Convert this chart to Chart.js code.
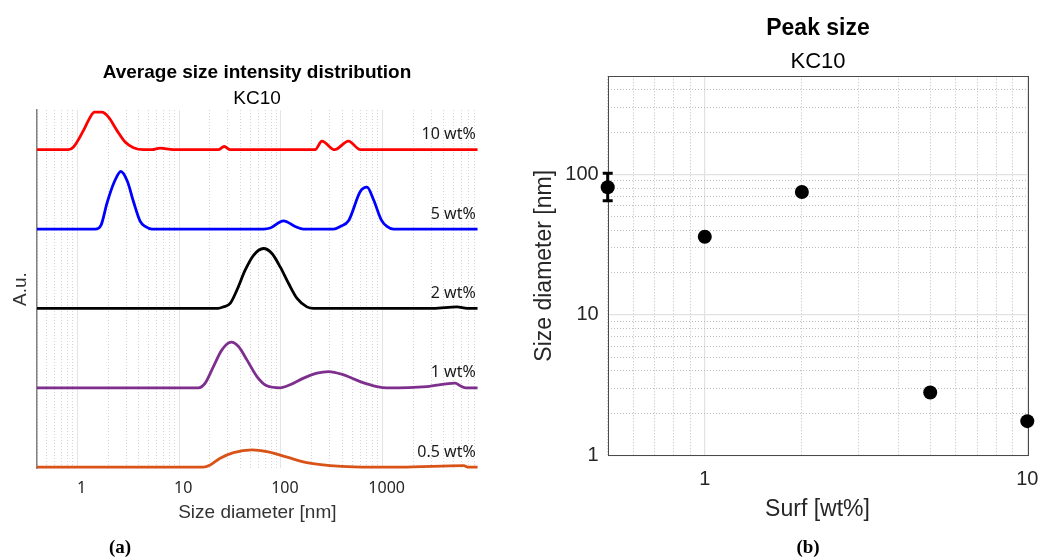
<!DOCTYPE html>
<html><head><meta charset="utf-8">
<script src="https://cdn.jsdelivr.net/npm/chart.js@4.4.1/dist/chart.umd.min.js"></script>
<style>
html,body{margin:0;padding:0;background:#fff;}
body{width:1059px;height:559px;position:relative;overflow:hidden;font-family:"Liberation Sans",Arial,sans-serif;}
.box{position:absolute;}
#wa{left:0;top:0;width:520px;height:559px;}
#wb{left:520px;top:0;width:539px;height:559px;}
.t{position:absolute;white-space:nowrap;transform:translate(-50%,-50%);color:#000;line-height:1;}
.cap{font-family:"Liberation Serif","DejaVu Serif",serif;font-weight:bold;font-size:19px;}
</style></head><body>
<div class="box" id="wa"><canvas id="ca"></canvas></div>
<div class="box" id="wb"><canvas id="cb"></canvas></div>
<div class="t" style="left:257px;top:71px;font-weight:bold;font-size:19px;">Average size intensity distribution</div>
<div class="t" style="left:257px;top:97px;font-size:19px;">KC10</div>
<div class="t" style="left:818px;top:27px;font-weight:bold;font-size:23px;">Peak size</div>
<div class="t" style="left:818px;top:61px;font-size:22px;">KC10</div>
<div class="t cap" style="left:120px;top:546px;">(a)</div>
<div class="t cap" style="left:808px;top:546px;">(b)</div>
<script>
// ---------- Panel (a): size intensity distributions (A.u., stacked) ----------
const label10 = '10 wt%';
const size10 = [0.4, 0.815, 0.913, 1.146, 1.333, 1.47, 1.74, 2.02, 2.44, 2.94, 3.55, 4.46, 5.4, 6.5, 8.7, 24.2, 27.7, 31.7, 217, 253, 337, 462, 603, 8570];
const int10  = [0, 0, 0.033, 0.243, 0.41, 0.473, 0.473, 0.41, 0.243, 0.096, 0.025, 0, 0, 0.02, 0, 0, 0.04, 0, 0, 0.108, 0, 0.108, 0, 0];

const label5 = '5 wt%';
const size5 = [0.4, 1.49, 1.71, 1.95, 2.31, 2.67, 3.10, 3.55, 4.14, 4.63, 5.39, 67.5, 78.5, 106, 138, 167, 329, 383, 462, 603, 701, 814, 969, 1102, 1280, 8570];
const int5  = [0, 0, 0.054, 0.327, 0.599, 0.725, 0.599, 0.347, 0.096, 0.033, 0, 0, 0.013, 0.104, 0.033, 0, 0, 0.033, 0.104, 0.473, 0.528, 0.369, 0.117, 0.033, 0, 0];

const label2 = '2 wt%';
const size2 = [0.4, 24, 27.3, 31.7, 36.9, 44.5, 53.8, 67.5, 81.6, 98.4, 119, 144, 180, 209, 3145, 5380, 6790, 8570];
const int2  = [0, 0, 0.02, 0.063, 0.23, 0.482, 0.67, 0.755, 0.692, 0.523, 0.314, 0.126, 0.02, 0, 0, 0.02, 0, 0];

const label1 = '1 wt%';
const size1 = [0.4, 15.5, 18.0, 21.7, 26.3, 32.5, 38.3, 46.3, 58.1, 72.8, 98.4, 123, 167, 226, 294, 413, 603, 879, 1102, 2730, 5170, 5790, 6490, 8570];
const int1  = [0, 0, 0.059, 0.268, 0.478, 0.575, 0.52, 0.352, 0.142, 0.025, 0, 0.038, 0.122, 0.185, 0.205, 0.164, 0.079, 0.016, 0, 0.016, 0.059, 0.025, 0, 0];

const label05 = '0.5 wt%';
const size05 = [0.4, 17.3, 20.2, 25.3, 34.2, 51.9, 72.8, 115, 180, 305, 518, 1490, 6240, 7000, 8570];
const int05  = [0, 0, 0.029, 0.113, 0.184, 0.218, 0.196, 0.126, 0.058, 0.02, 0.004, 0, 0.02, 0, 0];

const stackOffsets = [4, 3, 2, 1, 0];
const xTicksA = [1, 10, 100, 1000];
const xTitleA = 'Size diameter [nm]';
const yTitleA = 'A.u.';

// ---------- Panel (b): peak size ----------
const surf = [0.5, 1, 2, 5, 10];
const peakSize = [81, 36, 75, 2.8, 1.75];
const peakLow  = [65, null, null, null, null];
const peakHigh = [102, null, null, null, null];
const xTicksB = [1, 10];
const yTicksB = [1, 10, 100];
const xTitleB = 'Surf [wt%]';
const yTitleB = 'Size diameter [nm]';

// ---------- helpers ----------
function isDecade(v){ const l = Math.log10(v); return Math.abs(l - Math.round(l)) < 1e-6; }
function isIntSig(v){ const s = v / Math.pow(10, Math.floor(Math.log10(v) + 1e-9)); return Math.abs(s - Math.round(s)) < 1e-6; }
function keepIntSig(scale){ scale.ticks = scale.ticks.filter(t => isIntSig(t.value)); }
function keepDecades(scale){ scale.ticks = scale.ticks.filter(t => isDecade(t.value)); }

Chart.defaults.font.family = '"Liberation Sans", Arial, sans-serif';
Chart.defaults.animation = false;

const seriesA = [
  {label: label10, sizes: size10, vals: int10, color: '#ff0000'},
  {label: label5,  sizes: size5,  vals: int5,  color: '#0000ff'},
  {label: label2,  sizes: size2,  vals: int2,  color: '#000000'},
  {label: label1,  sizes: size1,  vals: int1,  color: '#7e2f8e'},
  {label: label05, sizes: size05, vals: int05, color: '#d95319'}
];

const curveLabels = {
  id: 'curveLabels',
  afterDatasetsDraw(chart){
    const {ctx, chartArea, scales} = chart;
    ctx.save();
    ctx.font = '16px "Noto Sans", "Open Sans", sans-serif';
    ctx.fillStyle = '#1a1a1a';
    ctx.textAlign = 'right';
    ctx.textBaseline = 'middle';
    chart.data.datasets.forEach((ds, i) => {
      const y = scales.y.getPixelForValue(stackOffsets[i]) - 15;
      ctx.fillText(ds.label, chartArea.right - 2, y);
    });
    ctx.restore();
  }
};

new Chart(document.getElementById('ca'), {
  type: 'line',
  data: {
    datasets: seriesA.map((s, i) => ({
      label: s.label,
      data: s.sizes.map((x, j) => ({x: x, y: s.vals[j] + stackOffsets[i]})),
      borderColor: s.color,
      backgroundColor: s.color,
      borderWidth: 2.8,
      pointRadius: 0,
      cubicInterpolationMode: 'monotone',
      clip: false,
      fill: false
    }))
  },
  options: {
    responsive: true,
    maintainAspectRatio: false,
    devicePixelRatio: 1,
    layout: {padding: {top: 110, right: 42.3, bottom: 29, left: 0}},
    plugins: {legend: {display: false}, tooltip: {enabled: false}, title: {display: false}},
    scales: {
      x: {
        type: 'logarithmic', position: 'bottom', min: 0.4, max: 8600,
        afterBuildTicks: keepIntSig,
        afterFit: s => { s.height = 62; },
        ticks: {autoSkip: false, maxRotation: 0, padding: 10.4, labelOffset: 4, color: '#262626',
                font: {family: '"Noto Sans", "Open Sans", sans-serif', size: 16},
                callback: v => xTicksA.some(t => Math.abs(t - v) < 1e-6) ? String(v) : ''},
        grid: {color: '#d6d6d6', lineWidth: 1, drawTicks: false},
        border: {display: false, dash: [1, 2]},
        title: {display: true, text: xTitleA, color: '#333333', font: {size: 19}, padding: {top: 0, bottom: 5.6}}
      },
      xMajor: {
        type: 'logarithmic', position: 'bottom', min: 0.4, max: 8600,
        afterBuildTicks: keepDecades,
        afterFit: s => { s.height = 0; },
        ticks: {display: false},
        grid: {color: '#e4e4e4', lineWidth: 1, drawTicks: false},
        border: {display: false}
      },
      y: {
        type: 'linear', min: -0.01, max: 4.5,
        afterFit: s => { s.width = 37; },
        ticks: {display: false},
        grid: {display: false, drawTicks: false},
        border: {display: true, color: '#808080', width: 1.5},
        title: {display: true, text: yTitleA, color: '#333333', font: {size: 19}, padding: {top: 9.6, bottom: 0}}
      }
    }
  },
  plugins: [curveLabels]
});

// ---------- Panel (b) ----------
const boxPlugin = {
  id: 'boxPlugin',
  beforeDatasetsDraw(chart){
    const {ctx, chartArea: a} = chart;
    ctx.save();
    ctx.strokeStyle = '#4a4a4a';
    ctx.lineWidth = 1;
    ctx.strokeRect(Math.round(a.left) + 0.5, Math.round(a.top) + 0.5, Math.round(a.right - a.left), Math.round(a.bottom - a.top));
    ctx.restore();
  }
};
const errorBars = {
  id: 'errorBars',
  afterDatasetsDraw(chart){
    const {ctx, scales} = chart;
    ctx.save();
    ctx.strokeStyle = '#000';
    ctx.lineWidth = 3;
    surf.forEach((x, i) => {
      if (peakLow[i] == null) return;
      const px = scales.x.getPixelForValue(x);
      const y1 = scales.y.getPixelForValue(peakLow[i]);
      const y2 = scales.y.getPixelForValue(peakHigh[i]);
      ctx.beginPath();
      ctx.moveTo(px, y1); ctx.lineTo(px, y2);
      ctx.moveTo(px - 5, y1); ctx.lineTo(px + 5, y1);
      ctx.moveTo(px - 5, y2); ctx.lineTo(px + 5, y2);
      ctx.stroke();
    });
    ctx.restore();
  }
};

new Chart(document.getElementById('cb'), {
  type: 'scatter',
  data: {
    datasets: [{
      label: 'Peak size',
      data: surf.map((x, i) => ({x: x, y: peakSize[i]})),
      backgroundColor: '#000',
      borderColor: '#000',
      pointRadius: 7,
      borderWidth: 0,
      clip: false
    }]
  },
  options: {
    responsive: true,
    maintainAspectRatio: false,
    devicePixelRatio: 1,
    layout: {padding: {top: 76.3, right: 31.7, bottom: 29, left: 0}},
    plugins: {legend: {display: false}, tooltip: {enabled: false}},
    scales: {
      x: {
        type: 'logarithmic', position: 'bottom', min: 0.5, max: 10,
        afterBuildTicks: keepIntSig,
        afterFit: s => { s.height = 74.7; },
        ticks: {autoSkip: false, maxRotation: 0, padding: 12, color: '#262626', font: {size: 20},
                callback: v => xTicksB.some(t => Math.abs(t - v) < 1e-6) ? String(v) : ''},
        grid: {color: '#bdbdbd', lineWidth: 1, drawTicks: false},
        border: {display: false, dash: [1, 2]},
        title: {display: true, text: xTitleB, color: '#262626', font: {size: 23}, padding: {top: 0, bottom: 6.2}}
      },
      xMajor: {
        type: 'logarithmic', position: 'bottom', min: 0.5, max: 10,
        afterBuildTicks: keepDecades,
        afterFit: s => { s.height = 0; },
        ticks: {display: false},
        grid: {color: '#e2e2e2', lineWidth: 1.2, drawTicks: false},
        border: {display: false}
      },
      y: {
        type: 'logarithmic', position: 'left', min: 1, max: 500,
        afterBuildTicks: keepIntSig,
        afterFit: s => { s.width = 87.7; },
        ticks: {autoSkip: false, padding: 9, color: '#262626', font: {size: 20},
                callback: v => yTicksB.some(t => Math.abs(t - v) < 1e-6) ? String(v) : ''},
        grid: {color: '#bdbdbd', lineWidth: 1, drawTicks: false},
        border: {display: false, dash: [1, 2]},
        title: {display: true, text: yTitleB, color: '#262626', font: {size: 23}, padding: {top: 11.2, bottom: 0}}
      },
      yMajor: {
        type: 'logarithmic', position: 'left', min: 1, max: 500,
        afterBuildTicks: keepDecades,
        afterFit: s => { s.width = 0; },
        ticks: {display: false},
        grid: {color: '#e2e2e2', lineWidth: 1.2, drawTicks: false},
        border: {display: false}
      }
    }
  },
  plugins: [boxPlugin, errorBars]
});
</script>
</body></html>
